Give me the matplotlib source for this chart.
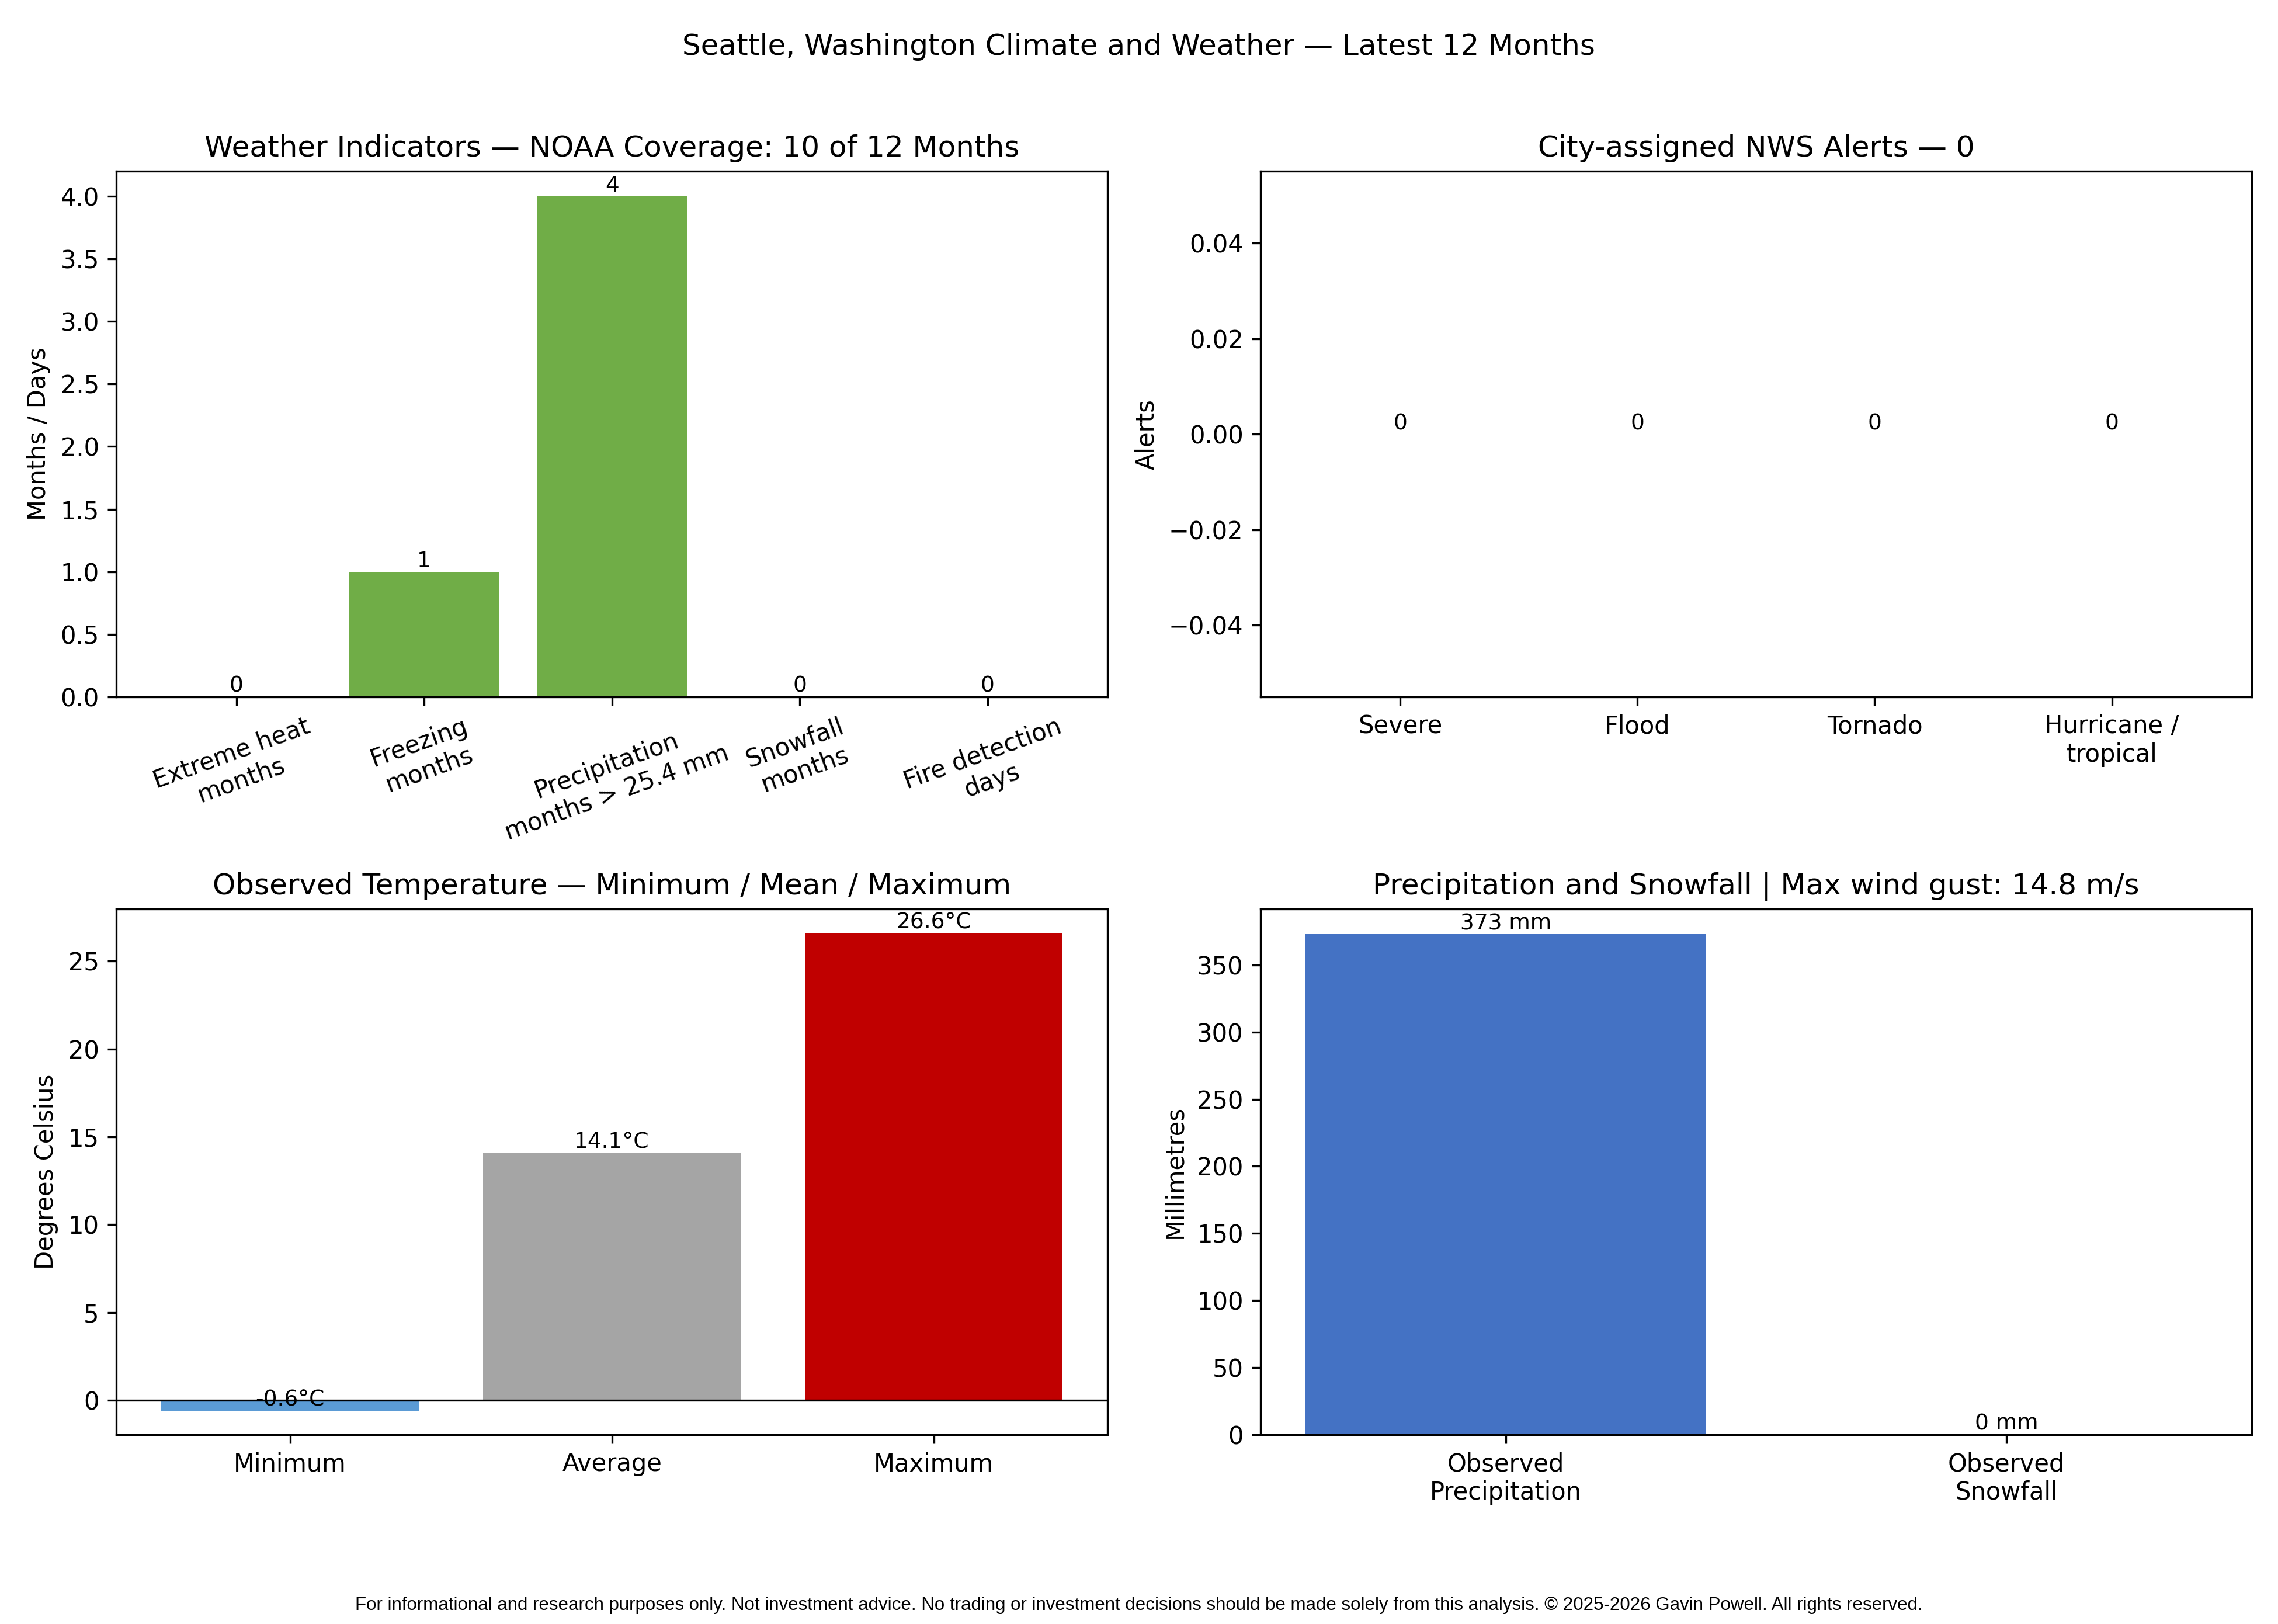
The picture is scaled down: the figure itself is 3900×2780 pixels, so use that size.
import matplotlib
matplotlib.use("Agg")
import matplotlib.pyplot as plt
import numpy as np

# data
indicator_labels = ["Extreme heat\nmonths", "Freezing\nmonths", "Precipitation\nmonths > 25.4 mm",
                    "Snowfall\nmonths", "Fire detection\ndays"]
indicator_values = [0, 1, 4, 0, 0]

alert_labels = ["Severe", "Flood", "Tornado", "Hurricane /\ntropical"]
alert_values = [0, 0, 0, 0]

temp_labels = ["Minimum", "Average", "Maximum"]
temp_values = [-0.6, 14.1, 26.6]
temp_colors = ["#5B9BD5", "#A5A5A5", "#C00000"]

precip_labels = ["Observed\nPrecipitation", "Observed\nSnowfall"]
precip_values = [373, 0]

noaa_months = 10
total_months = 12
max_gust = 14.8

fig, axes = plt.subplots(2, 2, figsize=(13, 9.2667), dpi=300)
fig.subplots_adjust(left=0.051, right=0.9885, top=0.8945, bottom=0.1166,
                    wspace=0.154, hspace=0.404)
fig.suptitle("Seattle, Washington Climate and Weather \u2014 Latest 12 Months")

# weather indicators
ax = axes[0, 0]
x = np.arange(len(indicator_labels))
ax.bar(x, indicator_values, color="#70AD47")
ax.axhline(0, color="black", linewidth=0.8)
for xi, v in zip(x, indicator_values):
    ax.text(xi, v, f"{v}", ha="center", va="bottom", fontsize=9)
ax.set_xticks(x)
ax.set_xticklabels(indicator_labels, rotation=20)
ax.set_ylabel("Months / Days")
ax.set_title(f"Weather Indicators \u2014 NOAA Coverage: {noaa_months} of {total_months} Months")

# alerts
ax = axes[0, 1]
x = np.arange(len(alert_labels))
ax.bar(x, alert_values, color="#ED7D31")
for xi, v in zip(x, alert_values):
    ax.text(xi, v, f"{v}", ha="center", va="bottom", fontsize=9)
ax.set_xticks(x)
ax.set_xticklabels(alert_labels)
ax.set_ylabel("Alerts")
ax.set_title(f"City-assigned NWS Alerts \u2014 {sum(alert_values)}")

# temperature
ax = axes[1, 0]
x = np.arange(len(temp_labels))
ax.bar(x, temp_values, color=temp_colors)
ax.axhline(0, color="black", linewidth=0.8)
for xi, v in zip(x, temp_values):
    ax.text(xi, v, f"{v:.1f}\u00b0C", ha="center", va="bottom", fontsize=9)
ax.set_xticks(x)
ax.set_xticklabels(temp_labels)
ax.set_ylabel("Degrees Celsius")
ax.set_title("Observed Temperature \u2014 Minimum / Mean / Maximum")

# precipitation
ax = axes[1, 1]
x = np.arange(len(precip_labels))
ax.bar(x, precip_values, color="#4472C4")
ax.axhline(0, color="black", linewidth=0.8)
for xi, v in zip(x, precip_values):
    ax.text(xi, v, f"{v:.0f} mm", ha="center", va="bottom", fontsize=9)
ax.set_xticks(x)
ax.set_xticklabels(precip_labels)
ax.set_ylabel("Millimetres")
ax.set_title(f"Precipitation and Snowfall | Max wind gust: {max_gust} m/s")

fig.text(0.5, 0.0115,
         "For informational and research purposes only. Not investment advice. "
         "No trading or investment decisions should be made solely from this analysis. "
         "\u00a9 2025-2026 Gavin Powell. All rights reserved.",
         ha="center", va="center", fontsize=7.5, family="Liberation Sans")

fig.savefig("out.png", dpi=300)
